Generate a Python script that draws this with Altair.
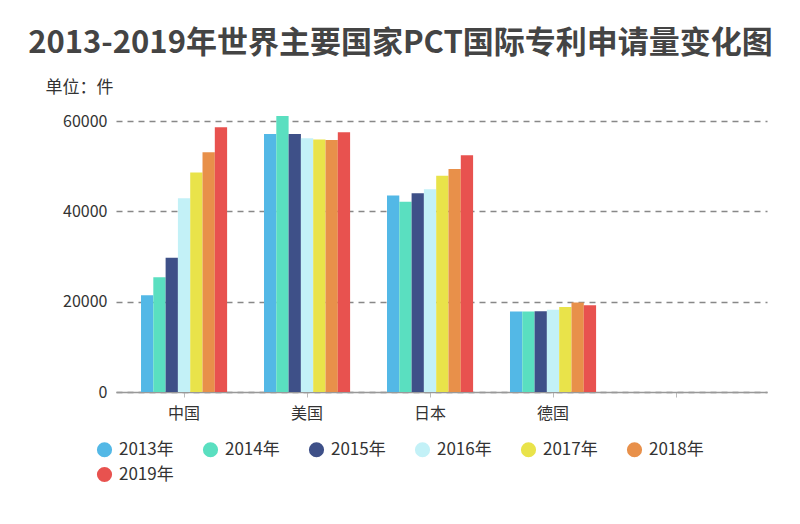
import altair as alt
import pandas as pd

countries = ["中国", "美国", "日本", "德国"]
years = ["2013年", "2014年", "2015年", "2016年", "2017年", "2018年", "2019年"]
china = [21400, 25400, 29700, 42900, 48600, 53100, 58600]
usa = [57100, 61100, 57100, 56200, 55900, 55800, 57500]
japan = [43500, 42100, 44000, 44900, 47900, 49400, 52400]
germany = [17800, 17800, 17900, 18200, 18800, 19800, 19200]
colors = ["#53b8e6", "#5adfc0", "#3e5088", "#c3f1f7", "#e9e34a", "#e8904a", "#e8524f"]
x_domain = countries + [" "]

rows = []
for c, vals in zip(countries, [china, usa, japan, germany]):
    for y, v in zip(years, vals):
        rows.append({"country": c, "year": y, "value": v})
df = pd.DataFrame(rows)

font = "Noto Sans CJK SC"

chart = alt.Chart(df).mark_bar(clip=False).encode(
    x=alt.X("country:N", sort=x_domain,
            scale=alt.Scale(domain=x_domain, paddingInner=0.3, paddingOuter=0.2965, align=0.343),
            axis=alt.Axis(title=None, labelAngle=0, labelFontSize=16, labelColor="#333",
                          labelFont=font, labelPadding=8, domainColor="#999", domainWidth=1.5,
                          tickColor="#bbb", tickSize=5, grid=False)),
    xOffset=alt.XOffset("year:N", sort=years,
                        scale=alt.Scale(paddingInner=0, paddingOuter=0)),
    y=alt.Y("value:Q",
            scale=alt.Scale(domain=[0, 60000], nice=False, clamp=False),
            axis=alt.Axis(title="单位：件", titleAngle=0, titleX=-71, titleY=-34,
                          titleAlign="left", titleBaseline="middle", titleFontSize=17,
                          titleFontWeight="normal", titleColor="#333", titleFont=font,
                          values=[0, 20000, 40000, 60000], format="d",
                          labelFontSize=16, labelColor="#333", labelFont=font, labelPadding=9,
                          domain=False, ticks=False, grid=True, gridColor="#888",
                          gridDash=[6, 5], gridWidth=1.5)),
    color=alt.Color("year:N", sort=years,
                    scale=alt.Scale(domain=years, range=colors),
                    legend=alt.Legend(title=None, orient="none", legendX=-20, legendY=320,
                                      direction="horizontal", columns=6, symbolType="circle",
                                      symbolSize=230, symbolStrokeWidth=0, labelFontSize=17,
                                      labelColor="#333", labelFont=font, columnPadding=28,
                                      rowPadding=7, labelOffset=6)),
).properties(
    width=651,
    height=271,
    title=alt.TitleParams("2013-2019年世界主要国家PCT国际专利申请量变化图", anchor="middle",
                          dx=-41, offset=18, fontSize=31, fontWeight="bold", color="#444",
                          font=font),
    autosize=alt.AutoSizeParams(type="none"),
    padding={"left": 108, "top": 113, "right": 25, "bottom": 124},
).configure_view(stroke=None)

chart.save("out.html", embed_options={"renderer": "svg", "actions": False})
